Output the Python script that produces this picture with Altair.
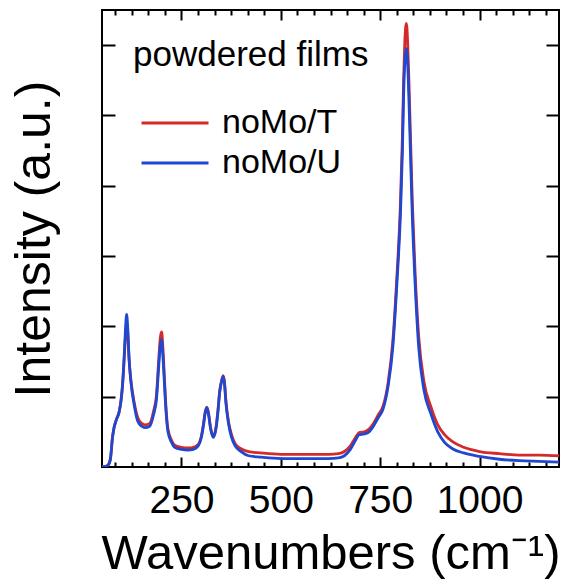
import altair as alt
import pandas as pd

# ---- data ----
wavenumber = [
    50, 60, 67, 72, 76, 80, 86, 93, 98, 102,
    106, 109, 112, 115, 118, 123, 131, 140, 150, 158,
    170, 180, 187, 193, 197, 200, 203, 207, 211, 216,
    225, 233, 250, 266, 280, 292, 300, 305, 310, 314,
    318, 323, 330, 337, 342, 346, 351, 355, 358, 362,
    368, 376, 385, 400, 419, 450, 500, 550, 600,
    620, 645, 660, 675, 688, 697, 710, 722, 733, 745,
    757, 770, 782, 792, 801, 806, 809, 812, 816, 819,
    822, 826, 831, 838, 847, 860, 878, 895, 912, 932,
    960, 1000, 1050, 1100, 1150, 1200,
]
intensity_T = [
    0.0, 0.01, 0.04, 0.15, 0.4, 0.55, 0.67, 0.78, 0.95, 1.18,
    1.55, 1.85, 2.05, 1.88, 1.55, 1.22, 0.92, 0.7, 0.62, 0.6,
    0.62, 0.8, 1.02, 1.55, 1.85, 1.92, 1.72, 1.28, 0.85, 0.54,
    0.38, 0.31, 0.28, 0.27, 0.28, 0.32, 0.44, 0.6, 0.79, 0.85,
    0.77, 0.57, 0.44, 0.57, 0.82, 1.07, 1.23, 1.3, 1.22, 0.93,
    0.66, 0.46, 0.33, 0.26, 0.22, 0.2, 0.18, 0.18, 0.18,
    0.18, 0.19, 0.22, 0.3, 0.42, 0.49, 0.5, 0.54, 0.62, 0.74,
    0.86, 1.2, 1.8, 2.7, 3.75, 4.7, 5.5, 6.05, 6.31, 6.05,
    5.55, 4.75, 3.75, 2.75, 1.85, 1.22, 0.85, 0.6, 0.46, 0.36,
    0.28, 0.22, 0.19, 0.17, 0.17, 0.16,
]
intensity_U = [
    0.0, 0.01, 0.04, 0.15, 0.4, 0.55, 0.67, 0.78, 0.95, 1.2,
    1.6, 1.95, 2.17, 1.95, 1.55, 1.2, 0.88, 0.65, 0.58, 0.56,
    0.58, 0.75, 0.96, 1.45, 1.75, 1.81, 1.6, 1.2, 0.8, 0.5,
    0.35, 0.28, 0.25, 0.24, 0.25, 0.3, 0.42, 0.58, 0.78, 0.84,
    0.75, 0.55, 0.42, 0.55, 0.8, 1.06, 1.22, 1.29, 1.2, 0.9,
    0.63, 0.42, 0.3, 0.22, 0.16, 0.14, 0.12, 0.12, 0.12,
    0.12, 0.13, 0.16, 0.25, 0.38, 0.46, 0.47, 0.5, 0.58, 0.7,
    0.82, 1.15, 1.72, 2.6, 3.6, 4.5, 5.3, 5.75, 5.95, 5.75,
    5.3, 4.5, 3.55, 2.6, 1.7, 1.1, 0.75, 0.5, 0.35, 0.26,
    0.2, 0.15, 0.11, 0.09, 0.08, 0.07,
]
series_names = ["noMo/T", "noMo/U"]
series_colors = ["#d42a2a", "#1f47cf"]
x_major = [250, 500, 750, 1000]
x_minor = [83.3, 125, 166.7, 208.3, 291.7, 333.3, 375, 416.7, 458.3,
           541.7, 583.3, 625, 666.7, 708.3, 791.7, 833.3, 875, 916.7, 958.3,
           1041.7, 1083.3, 1125, 1166.7]
y_ticks = [1, 2, 3, 4, 5, 6]

FONT = "Liberation Sans"

df = pd.concat([
    pd.DataFrame({"wavenumber": wavenumber, "intensity": intensity_T, "series": series_names[0]}),
    pd.DataFrame({"wavenumber": wavenumber, "intensity": intensity_U, "series": series_names[1]}),
], ignore_index=True)

xs = alt.Scale(domain=[50, 1200], nice=False, zero=False)
ys = alt.Scale(domain=[0, 6.5], nice=False, zero=False)

tick_style = dict(tickColor="black", tickWidth=2, domain=False, grid=False)

base = alt.Chart(df)

lines = base.mark_line(strokeWidth=2.8, interpolate="monotone", clip=True).encode(
    x=alt.X("wavenumber:Q", scale=xs, axis=alt.Axis(
        orient="bottom", values=x_major, offset=-10, tickSize=10, format="d",
        labels=True, labelFont=FONT, labelFontSize=39, labelColor="black",
        labelPadding=14, labelFlush=False, labelOverlap=False,
        title="Wavenumbers (cm⁻¹)", titleFont=FONT, titleFontSize=49,
        titleFontWeight="normal", titleColor="black", titlePadding=9,
        **tick_style)),
    y=alt.Y("intensity:Q", scale=ys, axis=alt.Axis(
        orient="left", values=y_ticks, offset=-13, tickSize=13, labels=False,
        title="Intensity (a.u.)", titleFont=FONT, titleFontSize=50,
        titleFontWeight="normal", titleColor="black", titlePadding=42,
        **tick_style)),
    color=alt.Color("series:N", scale=alt.Scale(domain=series_names, range=series_colors),
                    legend=alt.Legend(
                        title="powdered films", orient="none", legendX=31, legendY=28,
                        direction="vertical", symbolType="stroke", symbolSize=4489,
                        symbolStrokeWidth=3, symbolOffset=7, labelOffset=12,
                        labelFont=FONT, labelFontSize=34, labelColor="black", labelLimit=400,
                        titleFont=FONT, titleFontSize=35, titleFontWeight="normal",
                        titleColor="black", titleLimit=400, titlePadding=33,
                        clipHeight=34, rowPadding=6, padding=0)),
)

ghost = base.mark_line(opacity=0)

bottom_minor = ghost.encode(
    x=alt.X("wavenumber:Q", scale=xs, axis=alt.Axis(
        orient="bottom", values=x_minor, offset=-5, tickSize=5, labels=False,
        title=None, **tick_style)),
    y=alt.Y("intensity:Q", scale=ys, axis=alt.Axis(
        orient="right", values=y_ticks, offset=-13, tickSize=13, labels=False,
        title=None, **tick_style)),
)

top_major = ghost.encode(
    x=alt.X("wavenumber:Q", scale=xs, axis=alt.Axis(
        orient="top", values=x_major, offset=-10, tickSize=10, labels=False,
        title=None, **tick_style)),
    y=alt.Y("intensity:Q", scale=ys, axis=None),
)

top_minor = ghost.encode(
    x=alt.X("wavenumber:Q", scale=xs, axis=alt.Axis(
        orient="top", values=x_minor, offset=-5, tickSize=5, labels=False,
        title=None, **tick_style)),
    y=alt.Y("intensity:Q", scale=ys, axis=None),
)

chart = (
    alt.layer(lines, bottom_minor, top_major, top_minor)
    .resolve_axis(x="independent", y="independent")
    .properties(
        width=457, height=457,
        padding={"left": 102, "top": 10, "right": 7, "bottom": 112},
        autosize=alt.AutoSizeParams(type="none"),
        background="white",
    )
    .configure_view(stroke="black", strokeWidth=2)
)

chart.save("out.html", embed_options={"renderer": "svg", "actions": False})
